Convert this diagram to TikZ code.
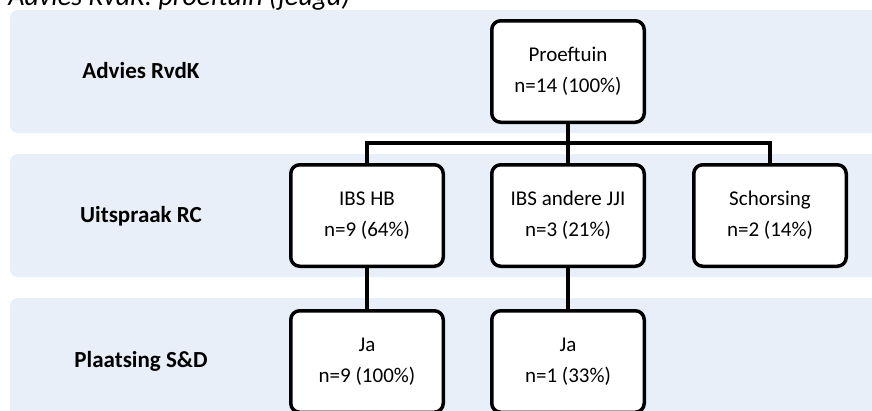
\documentclass[tikz,border=0pt]{standalone}
\usepackage{fontspec}
\setmainfont{Carlito}
\begin{document}
\tikzset{every picture/.style={line width=0.75pt}}

\begin{tikzpicture}[x=1pt,y=1pt,yscale=-1,xscale=1,
  band/.style={fill={rgb, 255:red, 233; green, 239; blue, 248 }, draw=none, rounded corners=8pt},
  stepbox/.style={draw, line width=3.5pt, rounded corners=9pt, fill=white, minimum width=152.5pt, minimum height=101.5pt, align=center, inner sep=0pt, font=\fontsize{21}{31}\selectfont},
  rowlabel/.style={anchor=base, font=\fontsize{23}{28}\selectfont\bfseries},
  link/.style={line width=3.5pt}]
\useasboundingbox (0,0) rectangle (872,410);
\clip (0,0) rectangle (872,410);

%Shape: Rectangle (bands)
\fill [band] (10,10) rectangle (900,133);
\fill [band] (10,154) rectangle (900,277);
\fill [band] (10,298) rectangle (900,440);

% Text Node (title, cut off at the top)
\node [anchor=base west, inner sep=0pt, font=\fontsize{28}{34}\selectfont\itshape] (title) at (8,5) {Advies RvdK: proeftuin (jeugd)};

% Text Node (row labels)
\node [rowlabel] (lblAdvies) at (141,78) {Advies RvdK};
\node [rowlabel] (lblUitspraak) at (141,222) {Uitspraak RC};
\node [rowlabel] (lblPlaatsing) at (141,367) {Plaatsing S\&D};

% Boxes
\node [stepbox] (proef) at (568,71.5) {Proeftuin\\n=14 (100\%)};
\node [stepbox] (ibshb) at (367,215.5) {IBS HB\\n=9 (64\%)};
\node [stepbox] (ibsjji) at (568,215.5) {IBS andere JJI\\n=3 (21\%)};
\node [stepbox] (schors) at (770,215.5) {Schorsing\\n=2 (14\%)};
\node [stepbox] (jahb) at (367,361.5) {Ja\\n=9 (100\%)};
\node [stepbox] (jajji) at (568,361.5) {Ja\\n=1 (33\%)};

% Connectors
\coordinate (split) at (568,143);
\draw [link] (proef.south) -- (split);
\draw [link] (ibshb.north) |- (split) -| (schors.north);
\draw [link] (split) -- (ibsjji.north);
\draw [link] (ibshb.south) -- (jahb.north);
\draw [link] (ibsjji.south) -- (jajji.north);

\end{tikzpicture}
\end{document}
